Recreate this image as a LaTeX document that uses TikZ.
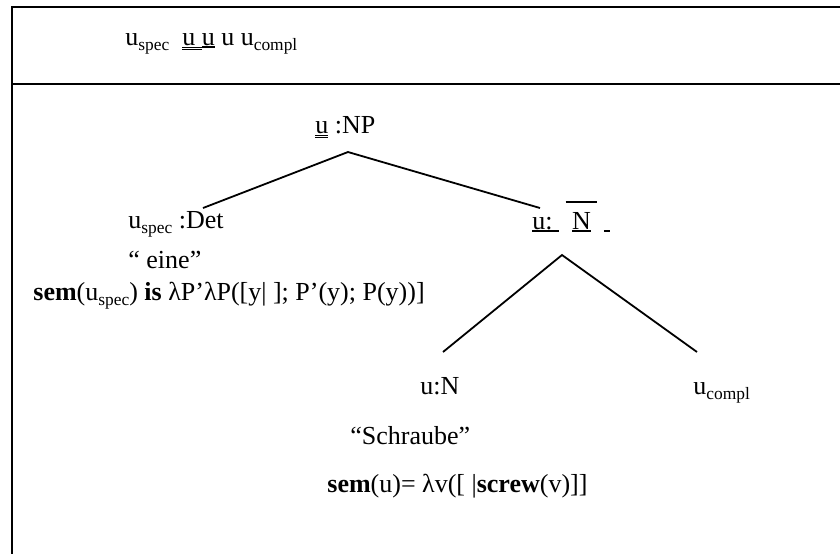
\documentclass[tikz,border=0pt]{standalone}
\usepackage{fontspec}
\setmainfont{Liberation Serif}
\newcommand\sbs[1]{\raisebox{-0.22em}{\fontsize{8.7}{10}\selectfont #1}}
\newcommand\ulx[1]{\setbox0\hbox{#1}\rlap{\rule[-1.4pt]{\wd0}{0.9pt}}\box0\relax}
\newcommand\dulx[1]{\setbox0\hbox{#1}\rlap{\rule[-1.2pt]{\wd0}{0.45pt}}\rlap{\rule[-2.6pt]{\wd0}{0.45pt}}\box0\relax}
\newcommand\ovx[1]{\setbox0\hbox{#1}\rlap{\rule[13.2pt]{\wd0}{0.9pt}}\box0\relax}
\tikzset{
  txt/.style={anchor=base west, inner sep=0pt, font=\fontsize{13}{15}\selectfont},
  frame/.style={line width=0.9pt},
  branch/.style={line width=0.9pt}
}
\begin{document}
\begin{tikzpicture}[x=0.5pt,y=-0.5pt]
\useasboundingbox (0,0) rectangle (840,554);
% frame
\coordinate (tl) at (12,7);
\coordinate (tr) at (840,7);
\coordinate (ml) at (12,84);
\coordinate (mr) at (840,84);
\coordinate (bl) at (12,554);
\draw[frame] (tr) -- (tl) -- (bl);
\draw[frame] (ml) -- (mr);
% top row
\node[txt] (top) at (125,45) {u\sbs{spec}\ \ \dulx{u\ }\ulx{u} u u\sbs{compl}};
% upper tree
\node[txt] (np) at (315,133) {\dulx{u} :NP};
\coordinate (npb) at (348,152);
\node[txt] (det) at (128,228) {u\sbs{spec} :Det};
\coordinate (detb) at (203,208);
\node[txt] (eine) at (128,268) {“ eine”};
\node[txt] (semdet) at (33,300) {\textbf{sem}(u\sbs{spec}) \textbf{is} λP’λP([y| ]; P’(y); P(y))]};
\node[txt] (nbar) at (532,229) {\ulx{u:\ }\ \ovx{\ \ulx{N}\ }\ \ulx{\ }};
\coordinate (nbart) at (540,208);
\coordinate (nbarb) at (562,255);
\draw[branch] (detb) -- (npb) -- (nbart);
% lower tree
\node[txt] (n) at (420,394) {u:N};
\node[txt] (compl) at (693,394) {u\sbs{compl}};
\coordinate (nt) at (443,352);
\coordinate (complt) at (697,352);
\draw[branch] (nt) -- (nbarb) -- (complt);
\node[txt] (schr) at (350,444) {“Schraube”};
\node[txt] (semn) at (327,492) {\textbf{sem}(u)= λv([ |\textbf{screw}(v)]]};
\end{tikzpicture}
\end{document}
